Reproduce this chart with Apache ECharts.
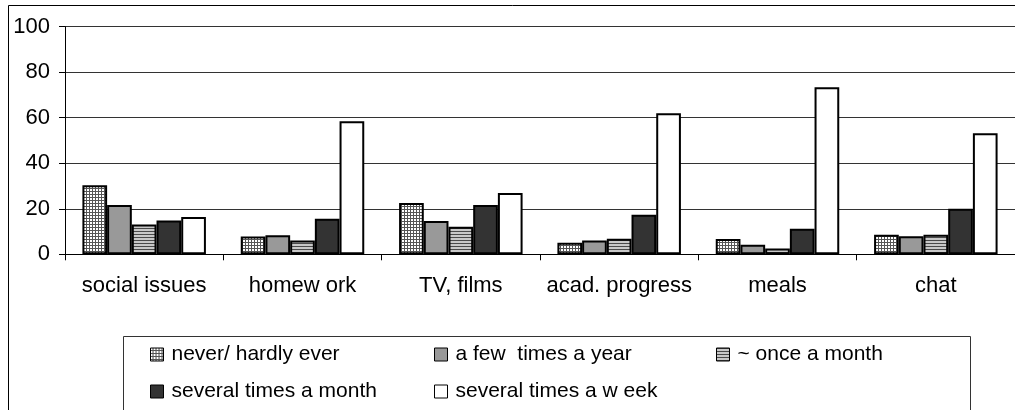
<!DOCTYPE html>
<html>
<head>
<meta charset="utf-8">
<script src="https://cdn.jsdelivr.net/npm/echarts@6/dist/echarts.min.js"></script>
<style>
  html, body { margin: 0; padding: 0; background: #fff; }
  #chart { width: 1015px; height: 410px; }
</style>
</head>
<body>
<div id="chart"></div>
<script>
var categories = ['social issues', 'homew ork', 'TV, films', 'acad. progress', 'meals', 'chat'];
var seriesNames = ['never/ hardly ever', 'a few  times a year', '~ once a month', 'several times a month', 'several times a w eek'];
var yTicks = [0, 20, 40, 60, 80, 100];

var neverHardly  = [30.3, 7.8, 22.5, 5.1, 6.7, 8.6];
var fewPerYear   = [21.7, 8.4, 14.6, 6.1, 4.2, 7.9];
var oncePerMonth = [13.1, 6.1, 12.1, 6.8, 2.5, 8.6];
var sevPerMonth  = [14.8, 15.6, 21.7, 17.4, 11.2, 20.0];
var sevPerWeek   = [16.4, 58.5, 26.9, 62.0, 73.4, 53.2];

// little canvas tiles for the hatched fills
function makeTile(w, h, draw) {
    var c = document.createElement('canvas');
    c.width = w; c.height = h;
    var ctx = c.getContext('2d');
    draw(ctx);
    return { image: c, repeat: 'repeat' };
}
var meshFill = makeTile(3, 3, function (ctx) {
    ctx.fillStyle = '#ffffff';
    ctx.fillRect(0, 0, 3, 3);
    ctx.fillStyle = '#555555';
    ctx.fillRect(0, 2, 3, 1);
    ctx.fillRect(2, 0, 1, 3);
});
var stripeFill = makeTile(4, 3, function (ctx) {
    ctx.fillStyle = '#c8c8c8';
    ctx.fillRect(0, 0, 4, 3);
    ctx.fillStyle = '#4a4a4a';
    ctx.fillRect(0, 0, 4, 1);
});

var fills = [meshFill, '#999999', stripeFill, '#333333', '#ffffff'];
var values = [neverHardly, fewPerYear, oncePerMonth, sevPerMonth, sevPerWeek];

var series = [];
values.forEach(function (vals, i) {
    series.push({
        name: seriesNames[i],
        type: 'bar',
        data: vals,
        barGap: '0%',
        barCategoryGap: '22%',
        itemStyle: { color: fills[i], borderColor: '#000', borderWidth: 2 },
        emphasis: { disabled: true }
    });
});

// one legend per entry so they sit in fixed columns
var legendPos = [[150, 344], [434, 344], [716, 344], [150, 381], [434, 381]];
var legends = [];
seriesNames.forEach(function (name, i) {
    legends.push({
        data: [name],
        left: legendPos[i][0],
        top: legendPos[i][1],
        padding: 0,
        itemWidth: 13,
        itemHeight: 13,
        selectedMode: false,
        icon: 'rect',
        itemStyle: { borderColor: '#000', borderWidth: 1 },
        textStyle: { fontFamily: 'Liberation Sans', fontSize: 21, color: '#000', padding: [0, 0, 0, 3] }
    });
});

var chart = echarts.init(document.getElementById('chart'));
chart.setOption({
    animation: false,
    backgroundColor: '#fff',
    grid: { left: 65, top: 26.7, width: 960, bottom: 155.7, containLabel: false },
    legend: legends,
    xAxis: {
        type: 'category',
        data: categories,
        axisLine: { lineStyle: { color: '#000', width: 1 } },
        axisTick: { show: true, length: 6, lineStyle: { color: '#000' } },
        axisLabel: { interval: 0, fontFamily: 'Liberation Sans', fontSize: 22, color: '#000', margin: 21 }
    },
    yAxis: {
        type: 'value',
        min: yTicks[0],
        max: yTicks[yTicks.length - 1],
        interval: 20,
        axisLine: { show: true, lineStyle: { color: '#000', width: 1 } },
        axisTick: { show: true, length: 6, lineStyle: { color: '#000' } },
        splitLine: { lineStyle: { color: '#333', width: 1 } },
        axisLabel: { fontFamily: 'Liberation Sans', fontSize: 22, color: '#000', margin: 15 }
    },
    graphic: [
        { type: 'rect', shape: { x: 8.5, y: 5.5, width: 1040, height: 440 },
          style: { fill: 'none', stroke: '#000', lineWidth: 1 }, silent: true },
        { type: 'rect', shape: { x: 123.5, y: 336.5, width: 847, height: 100 },
          style: { fill: 'none', stroke: '#333', lineWidth: 1 }, silent: true }
    ],
    series: series
});
</script>
</body>
</html>
